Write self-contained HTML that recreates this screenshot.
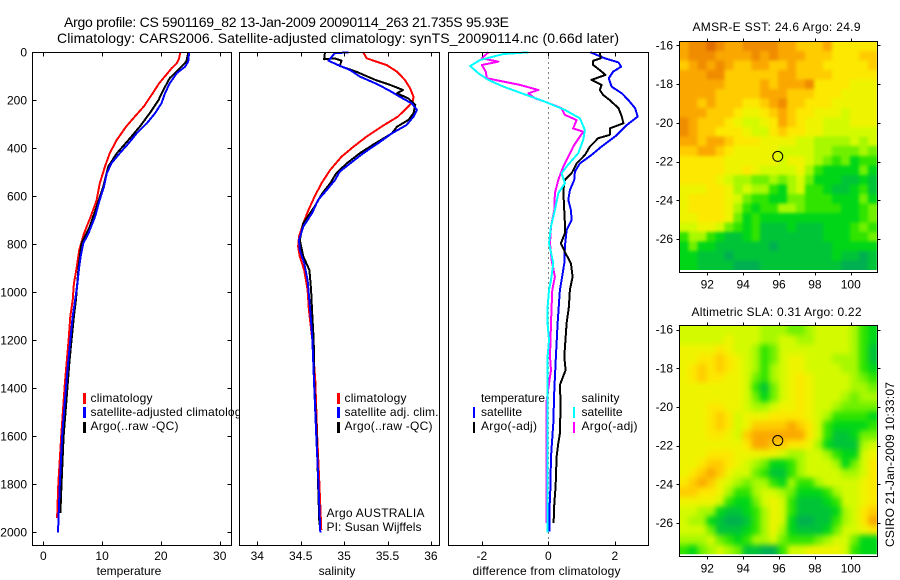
<!DOCTYPE html>
<html lang="en">
<head>
<meta charset="utf-8">
<title>Argo profile CS 5901169_82</title>
<style>
html,body{margin:0;padding:0;background:#fff;}
svg{display:block;font-family:"Liberation Sans",Arial,sans-serif;font-size:12px;fill:#000;}
.title{font-size:14px;}
</style>
</head>
<body>
<svg id="chart" xmlns="http://www.w3.org/2000/svg" width="900" height="580" viewBox="0 0 900 580">
<defs>
<filter id="sst-blur" filterUnits="userSpaceOnUse" x="650" y="10" width="250" height="290" color-interpolation-filters="sRGB"><feGaussianBlur stdDeviation="1.6"/></filter>
<filter id="sla-blur" filterUnits="userSpaceOnUse" x="650" y="295" width="250" height="285" color-interpolation-filters="sRGB"><feGaussianBlur stdDeviation="3"/></filter>
<clipPath id="sst-clip"><rect x="679.5" y="41.5" width="197.3" height="228.5"/></clipPath>
<clipPath id="sla-clip"><rect x="679.5" y="325.5" width="197.3" height="228.8"/></clipPath>
</defs>
<rect x="0" y="0" width="900" height="580" fill="#fff"/>
<text class="title" x="64" y="27" textLength="445" lengthAdjust="spacing">Argo profile: CS 5901169_82 13-Jan-2009 20090114_263 21.735S 95.93E</text>
<text class="title" x="57" y="43" textLength="562" lengthAdjust="spacing">Climatology: CARS2006. Satellite-adjusted climatology: synTS_20090114.nc (0.66d later)</text>
<g id="temp-panel"></g>
<g id="sal-panel"></g>
<g id="diff-panel"></g>
<g id="sst-map"></g>
<g id="sla-map"></g>

<g id="temp-legend">
<rect x="83" y="393" width="3" height="11" fill="#f00"/>
<text x="90.5" y="402" textLength="62" lengthAdjust="spacing">climatology</text>
<rect x="83" y="407" width="3" height="11" fill="#00f"/>
<text x="90.5" y="416" textLength="157" lengthAdjust="spacing">satellite-adjusted climatology</text>
<rect x="83" y="422" width="3" height="11" fill="#000"/>
<text x="90.5" y="430" textLength="88" lengthAdjust="spacing">Argo(..raw -QC)</text>
</g>
<g>
<rect x="337" y="393" width="3" height="11" fill="#f00"/>
<text x="344.5" y="402" textLength="62" lengthAdjust="spacing">climatology</text>
<rect x="337" y="407" width="3" height="11" fill="#00f"/>
<text x="344.5" y="416" textLength="94" lengthAdjust="spacing">satellite adj. clim.</text>
<rect x="337" y="422" width="3" height="11" fill="#000"/>
<text x="344.5" y="430" textLength="88" lengthAdjust="spacing">Argo(..raw -QC)</text>
<text x="326.5" y="517" textLength="98" lengthAdjust="spacing">Argo AUSTRALIA</text>
<text x="326.5" y="531" textLength="95" lengthAdjust="spacing">PI: Susan Wijffels</text>
</g>
<g>
<text x="481" y="402" textLength="64" lengthAdjust="spacing">temperature</text>
<rect x="473" y="407" width="2" height="11" fill="#00f"/>
<text x="481" y="416" textLength="41" lengthAdjust="spacing">satellite</text>
<rect x="473" y="422" width="2" height="11" fill="#000"/>
<text x="481" y="430" textLength="56" lengthAdjust="spacing">Argo(-adj)</text>
<text x="581.5" y="402" textLength="38" lengthAdjust="spacing">salinity</text>
<rect x="573" y="407" width="2" height="11" fill="#0ff"/>
<text x="581.5" y="416" textLength="41" lengthAdjust="spacing">satellite</text>
<rect x="573" y="422" width="2" height="11" fill="#f0f"/>
<text x="581.5" y="430" textLength="56" lengthAdjust="spacing">Argo(-adj)</text>
</g>
<text x="129" y="575" text-anchor="middle">temperature</text>
<text x="337" y="575" text-anchor="middle">salinity</text>
<text x="546.5" y="575" text-anchor="middle" textLength="148" lengthAdjust="spacing">difference from climatology</text>
<text x="692.5" y="31" textLength="168" lengthAdjust="spacing">AMSR-E SST: 24.6  Argo: 24.9</text>
<text x="691.5" y="316" textLength="170" lengthAdjust="spacing">Altimetric SLA: 0.31  Argo: 0.22</text>
<text transform="translate(894,547) rotate(-90)" textLength="165" lengthAdjust="spacing">CSIRO 21-Jan-2009 10:33:07</text>
</svg>

<script>
/* ---------- tick labels ---------- */
const depthTicks = [0,200,400,600,800,1000,1200,1400,1600,1800,2000];
const tempTicks = [0,10,20,30];
const salTicks = [34,34.5,35,35.5,36];
const diffTicks = [-2,0,2];
const lonTicks = [92,94,96,98,100];
const latTicks = [-16,-18,-20,-22,-24,-26];

/* ---------- temperature panel ---------- */
const tempClimDepth = [0,25,46,67,94,129,171,226,267,309,365,421,476,547,617,686,756,825,894,964,1033,1100,1200,1300,1400,1600,1800,1940];
const tempClimValues = [23.3,23.1,22.7,21.8,20.9,19.7,18.6,17.1,15.6,14.1,12.5,11.3,10.5,9.6,9.07,8.05,6.9,6.1,5.7,5.2,5.0,4.6,4.3,3.95,3.6,3.05,2.55,2.35];
const tempArgoDepth = [0,39,67,108,157,199,254,310,365,421,476,560,643,726,796,893,1033,1100,1200,1300,1400,1600,1800,1920];
const tempArgoValues = [24.7,24.3,23.2,21.5,20.4,19.6,18.1,16.4,14.5,12.5,11.05,10.2,9.07,7.9,6.5,6.0,5.55,5.2,4.8,4.4,4.1,3.45,3.1,2.9];
const tempSatDepth = [0,39,60,87,129,171,212,254,296,337,379,421,462,504,560,615,686,756,796,852,894,964,1033,1100,1200,1300,1400,1600,1800,2000];
const tempSatValues = [24.8,24.65,24.1,22.7,21.5,20.7,20.1,19.0,17.6,15.9,14.5,13.0,11.6,10.8,10.3,9.6,8.8,7.65,6.8,6.35,6.1,5.8,5.4,5.0,4.6,4.2,3.85,3.2,2.8,2.5];

/* ---------- salinity panel ---------- */
const salClimDepth = [0,25,39,53,81,115,150,185,206,233,268,310,351,393,435,490,546,601,657,712,768,810,851,907,990,1074,1200,1370,1600,1800,1990];
const salClimValues = [35.22,35.26,35.375,35.49,35.61,35.70,35.76,35.80,35.79,35.72,35.62,35.43,35.26,35.11,34.97,34.84,34.74,34.66,34.59,34.53,34.48,34.47,34.49,34.54,34.58,34.595,34.635,34.668,34.69,34.715,34.737];
const salArgoDepth = [0,29,25,35,57,81,115,136,157,171,192,219,254,282,310,338,379,421,463,504,546,587,643,712,782,851,907,990,1074,1200,1370,1600,1800,1970];
const salArgoValues = [34.78,34.77,34.89,34.97,34.95,35.14,35.36,35.53,35.68,35.61,35.74,35.82,35.80,35.74,35.61,35.55,35.36,35.18,35.03,34.91,34.84,34.75,34.66,34.53,34.49,34.53,34.60,34.62,34.63,34.65,34.655,34.685,34.70,34.715];
const salSatDepth = [0,4,35,53,74,101,129,157,185,213,240,268,303,338,379,421,463,497,532,574,615,671,726,782,824,879,949,1074,1200,1370,1600,1800,2000];
const salSatValues = [35.05,34.89,34.82,34.93,35.07,35.18,35.36,35.51,35.64,35.78,35.84,35.80,35.72,35.55,35.39,35.22,35.07,34.95,34.895,34.80,34.70,34.63,34.53,34.48,34.49,34.54,34.58,34.61,34.635,34.653,34.68,34.705,34.726];

/* ---------- difference panel ---------- */
const diffTempSatDepth = [0,25,42,60,81,108,143,171,199,233,268,303,351,393,428,463,497,532,574,615,657,699,740,810,879,949,990,1129,1268,1407,1546,1685,1824,1893,1997];
const diffTempSatValues = [1.27,1.70,2.11,2.19,1.95,1.82,1.90,2.21,2.41,2.61,2.69,2.36,2.01,1.60,1.30,0.95,0.80,0.78,0.65,0.60,0.68,0.70,0.55,0.50,0.48,0.40,0.35,0.28,0.23,0.18,0.15,0.08,0.06,0.04,0.04];
const diffTempArgoDepth = [0,25,35,53,74,94,115,136,157,178,199,233,268,296,317,344,358,393,428,463,504,532,574,629,713,754,796,838,879,935,990,1060,1129,1268,1324,1386,1463,1588,1629,1685,1810,1880,1962];
const diffTempArgoValues = [1.55,1.58,1.35,1.35,1.55,1.72,1.30,1.60,1.55,1.65,1.85,2.11,2.21,2.26,1.85,1.85,1.50,1.25,1.10,0.85,0.70,0.50,0.45,0.47,0.50,0.50,0.38,0.52,0.68,0.73,0.65,0.62,0.55,0.48,0.52,0.35,0.37,0.35,0.30,0.25,0.22,0.18,0.16];
const diffSalArgoDepth = [0,25,39,53,81,108,122,136,157,171,192,206,233,261,282,317,331,351,393,435,476,532,587,657,726,796,865,935,990,1060,1129,1268,1324,1380,1463,1685,1962];
const diffSalArgoValues = [-1.80,-2.0,-1.50,-2.0,-1.88,-1.85,-1.35,-0.85,-0.30,-0.60,-0.40,-0.10,0.40,0.50,0.85,0.75,1.05,0.95,0.75,0.60,0.45,0.30,0.20,0.18,0.08,0.05,0.10,0.20,0.12,0.10,0.08,0.05,0.08,0.02,-0.06,-0.06,-0.06];
const diffSalSatDepth = [0,7,32,57,88,115,143,171,206,240,275,324,365,421,476,504,546,587,657,726,796,879,949,990,1060,1129,1199,1268,1407,1546,1685,2000];
const diffSalSatValues = [-0.60,-1.35,-2.05,-2.35,-2.10,-1.80,-1.35,-0.80,-0.10,0.50,0.95,1.10,1.05,0.90,0.55,0.40,0.50,0.30,0.20,0.08,0.02,0.15,0.08,0.02,-0.02,-0.02,0.02,-0.02,-0.02,-0.02,-0.02,-0.02];

/* ---------- float position ---------- */
const floatLon = [95.93];
const floatLat = [-21.735];

/* ---------- SST map values, 0 (cool) to 12 (warm), north to south ---------- */
const sstRows = [
[10,11,11,12,11,10,10,11,11,11,11,10,10,9,9,9,10,8,8,8,8,8],
[10,11,11,11,10,10,10,10,11,10,11,10,10,10,9,9,9,8,8,8,9,9],
[9,10,11,10,11,10,9,9,10,10,9,9,10,9,9,9,8,8,8,8,8,9],
[10,10,10,11,11,9,9,9,9,9,9,10,10,9,9,9,9,8,8,8,8,8],
[10,10,10,10,10,9,9,9,9,10,9,10,10,10,11,8,8,8,8,7,7,7],
[10,10,10,10,9,9,9,9,9,10,10,10,9,9,9,8,8,8,7,7,7,7],
[10,10,9,10,9,9,9,8,8,9,10,11,9,9,8,8,8,7,7,7,7,7],
[10,10,10,9,9,9,8,7,7,8,9,10,9,8,8,7,7,7,6,7,7,7],
[11,10,9,9,9,8,7,6,6,7,8,10,9,8,7,7,6,6,6,7,7,7],
[11,10,9,9,8,8,8,7,6,6,8,9,8,8,7,7,6,6,6,6,6,6],
[10,10,9,10,10,9,8,8,8,7,7,7,7,6,6,5,5,5,5,6,5,6],
[9,9,10,10,9,8,7,7,7,7,7,6,6,6,6,5,5,4,4,4,5,4],
[8,8,8,8,8,7,7,7,7,7,7,6,7,7,6,5,4,3,4,2,3,3],
[8,8,8,8,8,7,7,8,7,6,6,6,6,7,5,3,2,2,2,2,4,2],
[8,8,8,8,7,6,5,5,4,4,5,4,5,6,4,2,2,2,1,1,2,1],
[7,7,7,8,8,7,5,6,5,5,3,2,5,6,3,3,2,1,1,2,3,1],
[7,8,8,8,8,7,6,4,3,3,2,2,4,4,3,3,3,2,2,2,4,2],
[7,8,8,8,8,7,5,3,2,3,3,5,5,4,3,3,3,3,2,2,3,4],
[7,7,8,8,8,7,4,2,3,2,2,2,2,2,2,2,2,2,2,2,3,4],
[6,6,7,7,6,4,3,2,3,1,1,1,2,1,1,1,2,2,2,3,4,3],
[3,5,5,3,2,1,1,2,3,1,1,1,1,1,1,1,2,2,2,3,3,4],
[2,4,2,2,1,1,1,1,1,1,0,1,1,1,1,1,1,2,2,2,2,2],
[2,2,1,1,1,0,1,1,1,1,1,1,1,1,1,1,1,2,1,1,0,1],
[2,2,1,1,1,1,0,0,0,1,1,1,1,1,1,1,1,1,0,0,0,1]
];

/* ---------- SLA map values, same scale ---------- */
const slaRows = [
[6,6,6,6,6,6,6,6,6,5,5,5,4,4,5,6,6,6,6,5,3,2],
[6,6,6,6,6,7,6,6,6,5,5,6,6,5,5,6,6,6,6,5,3,2],
[7,7,7,7,8,7,6,6,5,3,4,6,6,6,6,6,6,6,6,5,3,1],
[7,7,8,8,9,8,7,6,5,3,4,6,7,7,6,6,6,5,5,5,3,1],
[7,8,9,8,9,8,7,6,5,3,5,6,7,7,6,6,6,6,5,5,3,2],
[7,8,9,8,8,7,7,6,4,3,5,6,7,8,7,6,6,6,6,5,4,3],
[7,7,7,7,7,7,7,6,3,1,4,6,7,8,7,6,6,6,6,5,5,4],
[7,7,7,7,7,7,7,6,4,2,4,6,7,8,7,6,6,6,5,4,5,5],
[7,7,7,8,8,7,7,6,5,5,6,7,7,8,7,6,6,5,4,4,4,4],
[7,7,7,8,9,8,6,7,7,7,8,8,8,8,7,6,5,3,3,3,3,2],
[7,7,7,8,9,8,6,7,9,9,9,9,10,9,8,6,3,2,2,2,2,3],
[7,7,7,8,8,7,6,9,10,10,10,10,10,10,8,6,3,1,1,2,4,4],
[7,7,7,7,7,7,7,8,10,10,9,9,8,8,7,5,2,1,1,1,5,6],
[7,7,7,8,8,8,7,7,7,7,7,6,5,5,6,6,5,3,2,2,6,7],
[7,7,8,9,9,8,7,6,5,4,2,2,3,5,6,6,6,5,2,4,6,8],
[7,8,9,10,9,7,6,6,4,3,1,1,3,5,6,6,6,6,5,5,6,8],
[8,9,10,9,7,6,5,4,5,5,3,2,5,3,3,5,6,6,6,6,7,8],
[9,9,8,8,7,5,3,3,5,6,6,5,4,2,2,2,3,5,6,6,7,8],
[7,7,7,7,6,3,2,2,4,6,7,6,3,1,1,1,2,3,6,6,7,8],
[6,6,5,5,2,1,1,2,3,5,7,6,3,1,1,1,1,2,5,6,8,9],
[6,5,5,2,1,0,0,1,3,5,7,6,2,0,0,1,1,3,5,6,8,10],
[6,6,6,4,1,1,1,2,3,5,7,5,2,1,1,1,2,4,6,6,7,8],
[5,5,5,6,4,3,2,3,5,5,6,4,3,3,3,4,5,6,6,4,2,2],
[3,2,4,5,6,5,4,1,1,0,0,3,6,6,7,7,7,7,6,3,2,2]
];

const SVGNS = 'http://www.w3.org/2000/svg';
function mk(tag, attrs, parent, text) {
  const el = document.createElementNS(SVGNS, tag);
  for (const k in attrs) el.setAttribute(k, attrs[k]);
  if (text !== undefined) el.textContent = text;
  parent.appendChild(el);
  return el;
}

/* axis functions */
const yDepth = d => 52.3 + 0.24 * d;
const xTemp = v => 43.3 + 5.88 * v;
const xSal = v => 257.3 + 86.8 * (v - 34);
const xDiff = v => 548.3 + 33.25 * v;
const xLon = v => 707.3 + 17.93 * (v - 92);
const ySst = v => 45.3 + 19.37 * (-16 - v);
const ySla = v => 329.7 + 19.33 * (-16 - v);

function heatColor(v) {
  const stops = ['#00b050','#00c438','#00d618','#30e400','#70f000','#a8f800','#d4fa00','#eef400','#fce800','#ffcc00','#faa800','#f08c00','#e06c00'];
  return stops[Math.max(0, Math.min(stops.length - 1, Math.round(v)))];
}

function drawFrame(g, left, right, top, bottom) {
  const bg = mk('rect', {x:left, y:top, width:right-left, height:bottom-top, fill:'#fff'}, g);
  
  
}

function drawBox(g, left, right, top, bottom) {
  const box = mk('rect', {x:left, y:top, width:right-left, height:bottom-top, fill:'none', stroke:'#000', 'stroke-width':1, 'shape-rendering':'crispEdges'}, g);
  
  
}

function tickLine(g, x1, y1, x2, y2, name) {
  const t = mk('line', {x1:x1, y1:y1, x2:x2, y2:y2, stroke:'#000', 'stroke-width':1, 'shape-rendering':'crispEdges'}, g);
  
  
}

function tickText(g, x, y, anchor, str, name) {
  const t = mk('text', {x:x, y:y, 'text-anchor':anchor}, g, str);
  
  
}

function drawSeries(g, depths, values, xf, color, name) {
  const pts = depths.map((d, i) => xf(values[i]).toFixed(1) + ',' + yDepth(d).toFixed(1)).join(' ');
  const line = mk('polyline', {points:pts, fill:'none', stroke:color, 'stroke-width':2, 'stroke-linejoin':'round', 'shape-rendering':'crispEdges'}, g);
  
  
}

function drawProfilePanel(id, left, right, xf, xTicks, seriesFn, showDepth) {
  const g = document.getElementById(id);
  const top = 52.5, bottom = 545.5;
  drawFrame(g, left, right, top, bottom);
  seriesFn(g);
  drawBox(g, left, right, top, bottom);
  xTicks.forEach(v => {
    const x = Math.round(xf(v)) + 0.5;
    tickLine(g, x, top, x, top + 4, 'x-tick-top');
    tickLine(g, x, bottom, x, bottom - 4, 'x-tick-bottom');
    tickText(g, xf(v), 560, 'middle', String(v), 'x-tick-label');
  });
  if (showDepth) {
    depthTicks.forEach(d => {
      const y = Math.round(yDepth(d)) + 0.5;
      tickLine(g, left, y, left + 4, y, 'y-tick-left');
      tickLine(g, right, y, right - 4, y, 'y-tick-right');
      tickText(g, 27, yDepth(d) + 4, 'end', String(d), 'y-tick-label');
    });
  }
}

function drawMap(id, rows, yf, top, bottom, imageBottom, clipId, filterId) {
  const g = document.getElementById(id);
  const left = 679.5, right = 877.5;
  const cols = rows[0].length;
  const cw = 197.3 / cols;
  const ch = (imageBottom - top) / rows.length;
  const clipped = mk('g', {'clip-path':'url(#' + clipId + ')'}, g);
  
  
  const cells = mk('g', {filter:'url(#' + filterId + ')'}, clipped);
  
  
  const pad = 14;
  rows.forEach((row, r) => {
    row.forEach((v, c) => {
      const x0 = left + c * cw - (c === 0 ? pad : 0);
      const x1 = left + (c + 1) * cw + (c === cols - 1 ? pad : 0);
      const y0 = top + r * ch - (r === 0 ? pad : 0);
      const y1 = top + (r + 1) * ch + (r === rows.length - 1 ? pad : 0);
      const cell = mk('rect', {x:x0.toFixed(2), y:y0.toFixed(2), width:(x1 - x0 + 0.4).toFixed(2), height:(y1 - y0 + 0.4).toFixed(2), fill:heatColor(v), 'shape-rendering':'crispEdges'}, cells);
      
      
    });
  });
  drawBox(g, left, right, top, bottom);
  lonTicks.forEach(v => {
    const x = Math.round(xLon(v)) + 0.5;
    tickLine(g, x, top, x, top - 3, 'map-x-tick-top');
    tickLine(g, x, bottom, x, bottom + 3, 'map-x-tick-bottom');
    tickText(g, xLon(v), bottom + 16, 'middle', String(v), 'map-x-tick-label');
  });
  latTicks.forEach(v => {
    const y = Math.round(yf(v)) + 0.5;
    tickLine(g, left, y, left - 3, y, 'map-y-tick-left');
    tickLine(g, right, y, right + 3, y, 'map-y-tick-right');
    tickText(g, 673, yf(v) + 4, 'end', String(v), 'map-y-tick-label');
  });
  const marker = mk('circle', {cx:xLon(floatLon[0]), cy:yf(floatLat[0]), r:5, fill:'none', stroke:'#000', 'stroke-width':1}, g);
  
  
}

drawProfilePanel('temp-panel', 32.5, 231.5, xTemp, tempTicks, g => {
  drawSeries(g, tempClimDepth, tempClimValues, xTemp, '#f00', 'temperature-climatology-line');
  drawSeries(g, tempArgoDepth, tempArgoValues, xTemp, '#000', 'temperature-argo-line');
  drawSeries(g, tempSatDepth, tempSatValues, xTemp, '#00f', 'temperature-satellite-line');
}, true);

drawProfilePanel('sal-panel', 239.5, 439.5, xSal, salTicks, g => {
  drawSeries(g, salClimDepth, salClimValues, xSal, '#f00', 'salinity-climatology-line');
  drawSeries(g, salArgoDepth, salArgoValues, xSal, '#000', 'salinity-argo-line');
  drawSeries(g, salSatDepth, salSatValues, xSal, '#00f', 'salinity-satellite-line');
}, false);

drawProfilePanel('diff-panel', 448.5, 648.5, xDiff, diffTicks, g => {
  const zero = mk('line', {x1:xDiff(0), y1:52.5, x2:xDiff(0), y2:545.5, stroke:'#000', 'stroke-width':1, 'stroke-dasharray':'1 4', 'shape-rendering':'crispEdges'}, g);
  
  
  drawSeries(g, diffTempSatDepth, diffTempSatValues, xDiff, '#00f', 'difference-temperature-satellite-line');
  drawSeries(g, diffTempArgoDepth, diffTempArgoValues, xDiff, '#000', 'difference-temperature-argo-line');
  drawSeries(g, diffSalArgoDepth, diffSalArgoValues, xDiff, '#f0f', 'difference-salinity-argo-line');
  drawSeries(g, diffSalSatDepth, diffSalSatValues, xDiff, '#0ff', 'difference-salinity-satellite-line');
}, false);

drawMap('sst-map', sstRows, ySst, 41.5, 272.5, 270, 'sst-clip', 'sst-blur');
drawMap('sla-map', slaRows, ySla, 325.5, 556.5, 554.3, 'sla-clip', 'sla-blur');

/* keep the temperature legend under the salinity panel background, as the reference clips it */
const svgRoot = document.getElementById('chart');
svgRoot.insertBefore(document.getElementById('temp-legend'), document.getElementById('sal-panel'));
</script>
</body>
</html>
